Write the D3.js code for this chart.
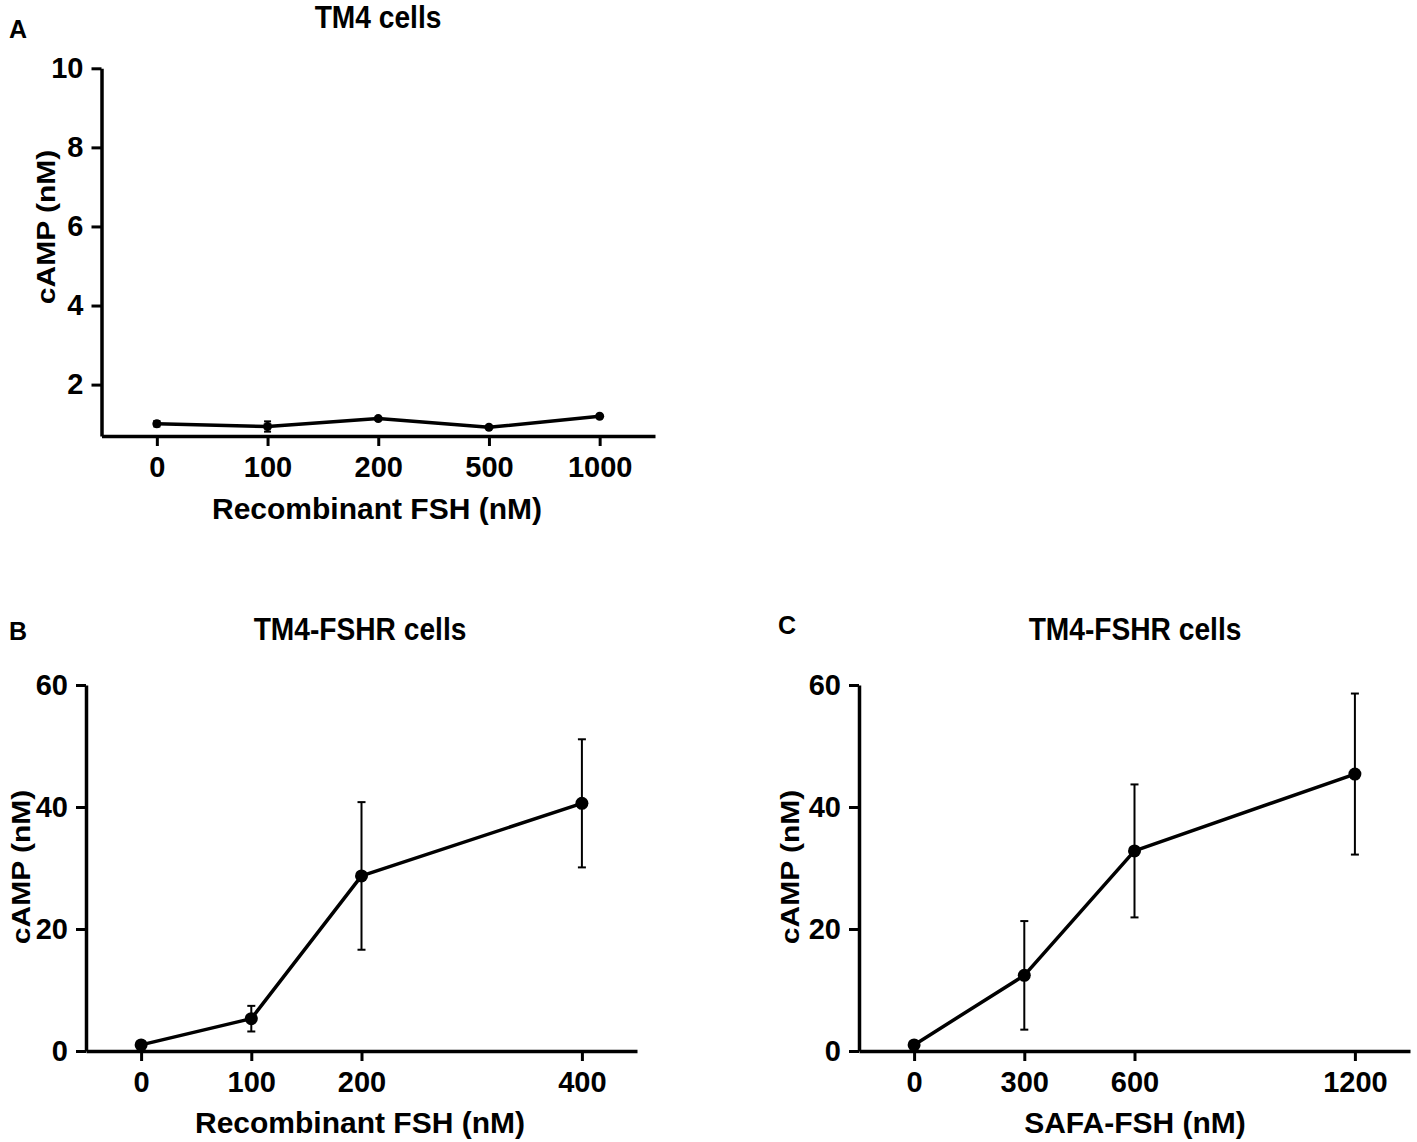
<!DOCTYPE html>
<html>
<head>
<meta charset="utf-8">
<script src="https://cdn.jsdelivr.net/npm/d3@7"></script>
<style>
  body { margin: 0; background: #fff; }
  text { font-family: "Liberation Sans", Arial, sans-serif; font-weight: bold; fill: #000; }
</style>
</head>
<body>
<script>
// panel A - TM4 cells
var dosesA = ["0", "100", "200", "500", "1000"];
var campA = [1.01, 0.94, 1.14, 0.92, 1.2];
var errA = [0.07, 0.13, 0.03, 0.02, 0.03];
var yTicksA = [2, 4, 6, 8, 10];

// panel B - TM4-FSHR, recombinant FSH
var dosesB = [0, 100, 200, 400];
var campB = [1.0, 5.3, 28.7, 40.6];
var errB = [0.3, 2.1, 12.1, 10.5];

// panel C - TM4-FSHR, SAFA-FSH
var dosesC = [0, 300, 600, 1200];
var campC = [1.0, 12.4, 32.8, 45.4];
var errC = [0.3, 8.9, 10.9, 13.2];

var yTicksBC = [0, 20, 40, 60];

var svg = d3.select("body").append("svg")
    .attr("width", 1417)
    .attr("height", 1142);

function styleAxis(g) {
    g.select(".domain").attr("stroke", "#000").attr("stroke-width", 3.5);
    g.selectAll(".tick line").attr("stroke", "#000").attr("stroke-width", 3);
    g.selectAll(".tick text")
        .attr("font-size", "29px")
        .attr("font-family", "Liberation Sans, Arial, sans-serif")
        .attr("font-weight", "bold")
        .attr("fill", "#000");
}

function drawPanel(p) {
    var g = svg.append("g");

    g.append("text")
        .attr("x", p.letterX).attr("y", p.letterY)
        .attr("font-size", "25px")
        .text(p.letter);

    // titles look condensed in the original, squeeze them a bit
    g.append("text")
        .attr("transform", "translate(" + p.titleX + "," + p.titleY + ") scale(0.88,1)")
        .attr("text-anchor", "middle")
        .attr("font-size", "32px")
        .text(p.title);

    var xAxis = d3.axisBottom(p.x).tickSize(10).tickSizeOuter(0).tickPadding(10);
    if (p.xTicks) xAxis.tickValues(p.xTicks).tickFormat(d3.format("d"));
    g.append("g")
        .attr("transform", "translate(0," + p.y.range()[0] + ")")
        .call(xAxis)
        .call(styleAxis);

    var yAxis = d3.axisLeft(p.y).tickValues(p.yTicks).tickSize(10).tickSizeOuter(0).tickPadding(8)
        .tickFormat(d3.format("d"));
    g.append("g")
        .attr("transform", "translate(" + p.x.range()[0] + ",0)")
        .call(yAxis)
        .call(styleAxis);

    g.append("text")
        .attr("x", p.xTitleX).attr("y", p.xTitleY)
        .attr("text-anchor", "middle")
        .attr("font-size", "30px")
        .text(p.xTitle);

    g.append("text")
        .attr("transform", "translate(" + p.yTitleX + "," + p.yTitleY + ") scale(0.85,1) rotate(-90)")
        .attr("text-anchor", "middle")
        .attr("font-size", "30px")
        .text("cAMP (nM)");

    var pts = p.doses.map(function(d, i) {
        return { x: p.x(d), y: p.y(p.vals[i]), lo: p.y(p.vals[i] - p.errs[i]), hi: p.y(p.vals[i] + p.errs[i]) };
    });

    // error bars
    var eb = g.selectAll(".eb").data(pts).enter().append("g");
    eb.append("line")
        .attr("x1", function(d) { return d.x; }).attr("x2", function(d) { return d.x; })
        .attr("y1", function(d) { return d.lo; }).attr("y2", function(d) { return d.hi; })
        .attr("stroke", "#000").attr("stroke-width", 2);
    eb.append("line")
        .attr("x1", function(d) { return d.x - p.cap; }).attr("x2", function(d) { return d.x + p.cap; })
        .attr("y1", function(d) { return d.hi; }).attr("y2", function(d) { return d.hi; })
        .attr("stroke", "#000").attr("stroke-width", 2);
    eb.append("line")
        .attr("x1", function(d) { return d.x - p.cap; }).attr("x2", function(d) { return d.x + p.cap; })
        .attr("y1", function(d) { return d.lo; }).attr("y2", function(d) { return d.lo; })
        .attr("stroke", "#000").attr("stroke-width", 2);

    var line = d3.line().x(function(d) { return d.x; }).y(function(d) { return d.y; });
    g.append("path")
        .datum(pts)
        .attr("d", line)
        .attr("fill", "none")
        .attr("stroke", "#000")
        .attr("stroke-width", 3.5)
        .attr("stroke-linejoin", "round");

    g.selectAll(".dot").data(pts).enter().append("circle")
        .attr("cx", function(d) { return d.x; })
        .attr("cy", function(d) { return d.y; })
        .attr("r", p.r)
        .attr("fill", "#000");
}

drawPanel({
    letter: "A", letterX: 9, letterY: 38,
    title: "TM4 cells", titleX: 378, titleY: 28,
    x: d3.scalePoint().domain(dosesA).range([101.5, 655]).padding(0.5),
    y: d3.scaleLinear().domain([0.7, 10]).range([436, 68.3]),
    yTicks: yTicksA,
    doses: dosesA, vals: campA, errs: errA,
    xTitle: "Recombinant FSH (nM)", xTitleX: 377, xTitleY: 519,
    yTitleX: 55, yTitleY: 227,
    r: 4.5, cap: 3.5
});

drawPanel({
    letter: "B", letterX: 9, letterY: 640,
    title: "TM4-FSHR cells", titleX: 360, titleY: 640,
    x: d3.scaleLinear().domain([-50, 450]).range([86, 637]),
    xTicks: dosesB,
    y: d3.scaleLinear().domain([0, 60]).range([1051, 685]),
    yTicks: yTicksBC,
    doses: dosesB, vals: campB, errs: errB,
    xTitle: "Recombinant FSH (nM)", xTitleX: 360, xTitleY: 1133,
    yTitleX: 30, yTitleY: 867,
    r: 6.5, cap: 4
});

drawPanel({
    letter: "C", letterX: 778, letterY: 634,
    title: "TM4-FSHR cells", titleX: 1135, titleY: 640,
    x: d3.scaleLinear().domain([-150, 1350]).range([859, 1410]),
    xTicks: dosesC,
    y: d3.scaleLinear().domain([0, 60]).range([1051, 685]),
    yTicks: yTicksBC,
    doses: dosesC, vals: campC, errs: errC,
    xTitle: "SAFA-FSH (nM)", xTitleX: 1135, xTitleY: 1133,
    yTitleX: 799, yTitleY: 867,
    r: 6.5, cap: 4
});
</script>
</body>
</html>
